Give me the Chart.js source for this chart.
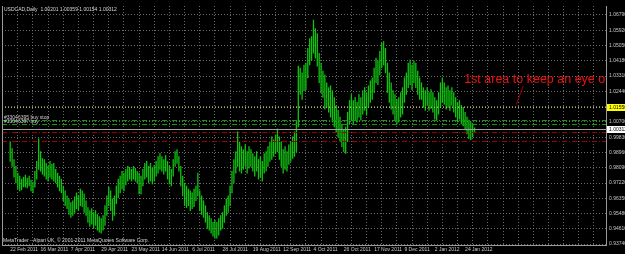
<!DOCTYPE html>
<html>
<head>
<meta charset="utf-8">
<script src="https://cdn.jsdelivr.net/npm/chart.js@4.4.1/dist/chart.umd.min.js"></script>
<style>
  html, body { margin: 0; padding: 0; background: #000; }
  #marco { width: 625px; height: 254px; }
</style>
</head>
<body>
<div id="marco"><canvas id="grafica"></canvas></div>
<script>
// Maximos y minimos diarios USDCAD
const highs = [
  0.9957, 0.9918, 0.9856, 0.9817, 0.9778, 0.9761, 0.9744, 0.9755, 0.9767, 0.9750,
  0.9761, 0.9739, 0.9727, 0.9789, 0.9845, 0.9974, 0.9901, 0.9862, 0.9856, 0.9834,
  0.9817, 0.9845, 0.9828, 0.9834, 0.9800, 0.9778, 0.9761, 0.9744, 0.9705, 0.9677,
  0.9649, 0.9632, 0.9610, 0.9621, 0.9643, 0.9666, 0.9649, 0.9688, 0.9677, 0.9660,
  0.9621, 0.9582, 0.9565, 0.9576, 0.9554, 0.9565, 0.9543, 0.9531, 0.9520, 0.9537,
  0.9593, 0.9649, 0.9699, 0.9677, 0.9632, 0.9649, 0.9705, 0.9744, 0.9761, 0.9789,
  0.9778, 0.9800, 0.9817, 0.9811, 0.9800, 0.9817, 0.9806, 0.9789, 0.9778, 0.9761,
  0.9800, 0.9834, 0.9845, 0.9817, 0.9834, 0.9806, 0.9823, 0.9845, 0.9873, 0.9890,
  0.9873, 0.9856, 0.9879, 0.9845, 0.9817, 0.9800, 0.9856, 0.9901, 0.9912, 0.9873,
  0.9817, 0.9761, 0.9722, 0.9705, 0.9688, 0.9677, 0.9666, 0.9688, 0.9705, 0.9778,
  0.9677, 0.9649, 0.9621, 0.9593, 0.9554, 0.9537, 0.9520, 0.9498, 0.9509, 0.9498,
  0.9520, 0.9537, 0.9554, 0.9593, 0.9632, 0.9649, 0.9705, 0.9789, 0.9856, 0.9901,
  1.0013, 0.9957, 0.9929, 0.9912, 0.9940, 0.9901, 0.9929, 0.9912, 0.9890, 0.9873,
  0.9901, 0.9856, 0.9873, 0.9845, 0.9890, 0.9901, 0.9929, 0.9957, 0.9985, 0.9968,
  0.9996, 1.0030, 0.9985, 0.9957, 0.9912, 0.9929, 0.9901, 0.9940, 0.9957, 0.9985,
  1.0013, 1.0069, 1.0388, 1.0377, 1.0349, 1.0394, 1.0405, 1.0489, 1.0545, 1.0556,
  1.0650, 1.0601, 1.0573, 1.0461, 1.0405, 1.0360, 1.0338, 1.0293, 1.0265, 1.0276,
  1.0248, 1.0209, 1.0164, 1.0136, 1.0097, 1.0058, 1.0024, 1.0041, 1.0125, 1.0192,
  1.0226, 1.0192, 1.0209, 1.0181, 1.0226, 1.0209, 1.0248, 1.0265, 1.0237, 1.0276,
  1.0304, 1.0321, 1.0377, 1.0433, 1.0416, 1.0472, 1.0517, 1.0528, 1.0489, 1.0405,
  1.0349, 1.0293, 1.0248, 1.0226, 1.0198, 1.0209, 1.0237, 1.0265, 1.0321, 1.0349,
  1.0405, 1.0422, 1.0394, 1.0416, 1.0405, 1.0360, 1.0321, 1.0293, 1.0265, 1.0248,
  1.0265, 1.0237, 1.0254, 1.0237, 1.0209, 1.0192, 1.0237, 1.0293, 1.0321, 1.0293,
  1.0265, 1.0276, 1.0248, 1.0265, 1.0237, 1.0209, 1.0181, 1.0192, 1.0164, 1.0153,
  1.0125, 1.0097, 1.0080, 1.0069, 1.0058, 1.00359
];
const lows = [
  0.9845, 0.9817, 0.9755, 0.9722, 0.9688, 0.9677, 0.9683, 0.9699, 0.9699, 0.9694,
  0.9705, 0.9677, 0.9666, 0.9699, 0.9744, 0.9800, 0.9789, 0.9772, 0.9761, 0.9744,
  0.9733, 0.9755, 0.9744, 0.9733, 0.9722, 0.9699, 0.9677, 0.9666, 0.9621, 0.9593,
  0.9576, 0.9543, 0.9526, 0.9537, 0.9554, 0.9576, 0.9565, 0.9593, 0.9587, 0.9554,
  0.9537, 0.9498, 0.9475, 0.9487, 0.9464, 0.9481, 0.9453, 0.9442, 0.9436, 0.9453,
  0.9481, 0.9537, 0.9593, 0.9565, 0.9509, 0.9537, 0.9604, 0.9638, 0.9666, 0.9688,
  0.9677, 0.9711, 0.9733, 0.9744, 0.9733, 0.9744, 0.9733, 0.9722, 0.9660, 0.9660,
  0.9705, 0.9744, 0.9755, 0.9722, 0.9733, 0.9716, 0.9733, 0.9761, 0.9778, 0.9800,
  0.9789, 0.9772, 0.9789, 0.9744, 0.9716, 0.9705, 0.9761, 0.9817, 0.9834, 0.9789,
  0.9705, 0.9649, 0.9593, 0.9582, 0.9593, 0.9565, 0.9576, 0.9587, 0.9621, 0.9649,
  0.9565, 0.9543, 0.9526, 0.9498, 0.9464, 0.9453, 0.9436, 0.9419, 0.9408, 0.9408,
  0.9425, 0.9453, 0.9464, 0.9498, 0.9537, 0.9554, 0.9593, 0.9666, 0.9722, 0.9778,
  0.9817, 0.9789, 0.9778, 0.9800, 0.9817, 0.9778, 0.9806, 0.9817, 0.9789, 0.9761,
  0.9789, 0.9744, 0.9755, 0.9733, 0.9778, 0.9789, 0.9817, 0.9845, 0.9856, 0.9873,
  0.9890, 0.9901, 0.9856, 0.9817, 0.9778, 0.9800, 0.9789, 0.9828, 0.9845, 0.9862,
  0.9873, 0.9901, 1.0041, 1.0226, 1.0198, 1.0248, 1.0254, 1.0321, 1.0394, 1.0422,
  1.0461, 1.0433, 1.0388, 1.0293, 1.0237, 1.0209, 1.0142, 1.0153, 1.0125, 1.0097,
  1.0069, 1.0041, 1.0013, 0.9985, 0.9957, 0.9929, 0.9901, 0.9890, 0.9957, 1.0058,
  1.0080, 1.0058, 1.0080, 1.0069, 1.0097, 1.0080, 1.0114, 1.0136, 1.0108, 1.0153,
  1.0181, 1.0198, 1.0237, 1.0293, 1.0282, 1.0338, 1.0377, 1.0394, 1.0349, 1.0237,
  1.0181, 1.0142, 1.0114, 1.0080, 1.0058, 1.0069, 1.0097, 1.0114, 1.0181, 1.0226,
  1.0265, 1.0282, 1.0254, 1.0293, 1.0265, 1.0226, 1.0198, 1.0198, 1.0153, 1.0136,
  1.0164, 1.0136, 1.0147, 1.0125, 1.0086, 1.0080, 1.0114, 1.0153, 1.0181, 1.0170,
  1.0142, 1.0153, 1.0136, 1.0164, 1.0125, 1.0097, 1.0069, 1.0086, 1.0058, 1.0047,
  1.0024, 1.0002, 0.9974, 0.9968, 0.9985, 1.00154
];

// Ultima vela: apertura, maximo, minimo, cierre
const lastBar = [1.00201, 1.00359, 1.00154, 1.00312];

// Etiquetas de fecha (una cada 16 velas)
const dateLabels = [
  '22 Feb 2011', '16 Mar 2011', '7 Apr 2011', '29 Apr 2011', '23 May 2011', '14 Jun 2011',
  '6 Jul 2011', '28 Jul 2011', '19 Aug 2011', '12 Sep 2011', '4 Oct 2011', '26 Oct 2011',
  '17 Nov 2011', '9 Dec 2011', '2 Jan 2012', '24 Jan 2012'
];

// Escala de precios
const priceTicks = [
  1.0679, 1.0592, 1.0505, 1.0418, 1.0331, 1.0244, 1.0157, 1.0070,
  0.9983, 0.9896, 0.9809, 0.9722, 0.9635, 0.9548, 0.9461, 0.9374
];

// Lineas horizontales del grafico
const yellowLevel = [1.0155];
const orderLevels = [1.0079, 1.0056];
const orderNames = ['#33046395 buy stop', '#33046397 buy'];
const stopLevels = [1.0013, 0.9961];

// Nota en rojo
const nota = { texto: '1st area to keep an eye on', barra: 239.5, precio: 1.0292 };
const flecha = { desde: [270.7, 1.0276], hasta: [267.1, 1.0170] };

const fuente = 'Liberation Sans, Arial, sans-serif';
const gris = 'rgba(125,125,125,0.85)';

// Capas extra: lineas de ordenes, textos y cajas del eje
const capas = {
  id: 'capas',
  afterDatasetsDraw(chart) {
    const { ctx, chartArea: a, scales: { x, y } } = chart;
    ctx.save();
    ctx.beginPath();
    ctx.rect(a.left, a.top, a.right - a.left, a.bottom - a.top);
    ctx.clip();

    const linea = (v, color, dash) => {
      const py = Math.round(y.getPixelForValue(v)) + 0.5;
      ctx.strokeStyle = color;
      ctx.lineWidth = 1;
      ctx.setLineDash(dash);
      ctx.beginPath();
      ctx.moveTo(a.left, py);
      ctx.lineTo(a.right, py);
      ctx.stroke();
      return py;
    };

    linea(yellowLevel[0], 'rgba(200,200,80,0.9)', [1, 2]);
    stopLevels.forEach(v => linea(v, '#a00000', [5, 2, 1, 2]));
    linea(lastBar[3], '#a0a0a0', []);

    ctx.font = '5px ' + fuente;
    ctx.textBaseline = 'bottom';
    ctx.textAlign = 'left';
    orderLevels.forEach((v, i) => {
      const py = linea(v, '#109a10', [5, 2, 1, 2]);
      ctx.fillStyle = '#d0d0d0';
      ctx.fillText(orderNames[i], a.left + 2, py - 0.5);
    });

    // flecha roja
    ctx.setLineDash([]);
    ctx.strokeStyle = '#a00000';
    ctx.beginPath();
    ctx.moveTo(x.getPixelForValue(flecha.desde[0]), y.getPixelForValue(flecha.desde[1]));
    ctx.lineTo(x.getPixelForValue(flecha.hasta[0]), y.getPixelForValue(flecha.hasta[1]));
    ctx.stroke();

    // texto rojo
    ctx.font = '12.5px ' + fuente;
    ctx.fillStyle = '#ee1010';
    ctx.textBaseline = 'alphabetic';
    ctx.fillText(nota.texto, x.getPixelForValue(nota.barra), y.getPixelForValue(nota.precio));

    // titulo y copyright
    ctx.font = '5px ' + fuente;
    ctx.fillStyle = '#d8d8d8';
    ctx.textBaseline = 'top';
    ctx.fillText('USDCAD,Daily  ' + lastBar.map(v => v.toFixed(5)).join(' '), a.left + 2, a.top + 1);
    ctx.fillText('MetaTrader - Alpari UK, \u00a9 2001-2011 MetaQuotes Software Corp.', a.left + 1, a.bottom - 7);
    ctx.restore();

    // borde izquierdo
    ctx.save();
    ctx.strokeStyle = '#9a9a9a';
    ctx.beginPath();
    ctx.moveTo(a.left + 0.5, a.top);
    ctx.lineTo(a.left + 0.5, a.bottom);
    ctx.stroke();
    ctx.restore();
  },
  afterDraw(chart) {
    const { ctx, chartArea: a, scales: { y } } = chart;
    const caja = (v, fondo) => {
      const py = y.getPixelForValue(v);
      ctx.fillStyle = fondo;
      ctx.fillRect(a.right + 1, Math.round(py) - 3, 20, 7);
      ctx.fillStyle = '#000';
      ctx.font = '5px ' + fuente;
      ctx.textBaseline = 'middle';
      ctx.textAlign = 'left';
      ctx.fillText(v.toFixed(5), a.right + 3, py + 0.5);
    };
    ctx.save();
    caja(yellowLevel[0], '#ffff00');
    caja(lastBar[3], '#ffffff');
    ctx.restore();
  }
};

new Chart(document.getElementById('grafica'), {
  type: 'bar',
  data: {
    datasets: [{
      data: highs.map((h, i) => ({ x: i, y: [lows[i], h] })),
      backgroundColor: '#0fc40f',
      borderWidth: 0,
      barThickness: 0.65,
      grouped: false
    }]
  },
  options: {
    responsive: true,
    maintainAspectRatio: false,
    animation: false,
    events: [],
    layout: { padding: { left: 2, top: 2, right: 0, bottom: 0 } },
    plugins: { legend: { display: false }, tooltip: { enabled: false } },
    scales: {
      x: {
        type: 'linear',
        min: -0.25,
        max: 310.25,
        afterFit: s => { s.height = 9; },
        afterBuildTicks: s => {
          const t = [];
          for (let v = 0; v <= 304; v += 8) t.push({ value: v });
          s.ticks = t;
        },
        grid: { color: gris, drawTicks: false },
        border: { display: true, color: '#9a9a9a', dash: [1, 2] },
        ticks: {
          autoSkip: false,
          maxRotation: 0,
          minRotation: 0,
          align: 'start',
          padding: 2,
          color: '#c8c8c8',
          font: { family: fuente, size: 5 },
          callback: v => (v % 16 === 0 && dateLabels[v / 16]) ? dateLabels[v / 16] : ''
        }
      },
      y: {
        position: 'right',
        min: 0.9369,
        max: 1.0730,
        afterFit: s => { s.width = 19; },
        afterBuildTicks: s => { s.ticks = priceTicks.map(v => ({ value: v })); },
        grid: { color: gris, drawTicks: false },
        border: { display: true, color: '#9a9a9a', dash: [1, 2] },
        ticks: {
          padding: 3,
          color: '#c8c8c8',
          font: { family: fuente, size: 5 },
          callback: v => v.toFixed(5)
        }
      }
    }
  },
  plugins: [capas]
});
</script>
</body>
</html>
